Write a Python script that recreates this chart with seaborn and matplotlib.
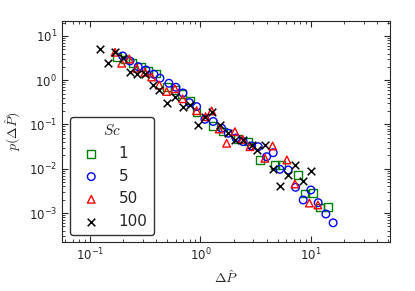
import numpy as np
import pandas as pd
import matplotlib
matplotlib.use("Agg")
import matplotlib.pyplot as plt
import seaborn as sns

# valores (Delta P_hat, p(Delta P_hat)) para cada Sc
x_sc1 = [0.1755, 0.2073, 0.2434, 0.2893, 0.3371, 0.3957, 0.5006, 0.5875, 0.6803, 0.8035,
         0.9239, 1.306, 1.608, 2.198, 2.707, 3.455, 4.723, 5.430, 7.627, 8.735, 10.49, 12.06, 14.34]
y_sc1 = [3.35, 2.94, 2.42, 1.99, 1.66, 1.42, 0.693, 0.602, 0.489, 0.345,
         0.185, 0.0925, 0.0688, 0.0463, 0.0409, 0.0158, 0.01216, 0.01216, 0.00722, 0.00276, 0.00279, 0.00133, 0.00137]

x_sc5 = [0.1976, 0.2301, 0.2736, 0.3212, 0.3795, 0.4300, 0.5187, 0.6000, 0.6946, 0.7950,
         0.9239, 1.098, 1.306, 1.556, 1.785, 2.096, 2.439, 2.906, 3.336, 3.973,
         4.559, 5.242, 6.233, 7.270, 8.518, 10.0, 11.65, 13.67, 15.91]
y_sc5 = [3.53, 2.72, 2.02, 1.70, 1.36, 1.11, 0.853, 0.693, 0.515, 0.311,
         0.253, 0.131, 0.117, 0.0820, 0.0633, 0.0495, 0.0409, 0.0327, 0.0315, 0.0187,
         0.0230, 0.00972, 0.00937, 0.00381, 0.00197, 0.00331, 0.00171, 0.00095, 0.00060]

x_sc50 = [0.1684, 0.1936, 0.2268, 0.2647, 0.3146, 0.3617, 0.4238, 0.4944, 0.5875, 0.6903,
          0.9239, 1.114, 1.263, 1.479, 1.726, 2.052, 2.409, 2.805, 3.835, 4.502,
          6.066, 7.164, 9.692, 11.57]
y_sc50 = [4.28, 2.42, 3.02, 1.86, 1.51, 1.18, 0.781, 0.557, 0.641, 0.381,
          0.205, 0.150, 0.202, 0.0791, 0.0376, 0.0688, 0.0463, 0.0315, 0.0172, 0.0327,
          0.0158, 0.00452, 0.00168, 0.00152]

x_sc100 = [0.123, 0.1446, 0.1684, 0.1976, 0.2301, 0.2681, 0.3146, 0.3693, 0.4238, 0.4944,
           0.5875, 0.6903, 0.8035, 0.9552, 1.098, 1.263, 1.501, 1.785, 2.052, 2.409,
           2.906, 3.226, 3.835, 4.559, 5.242, 6.233, 7.164, 8.518, 10.0]
y_sc100 = [5.00, 2.49, 4.42, 3.13, 1.56, 1.36, 1.36, 0.781, 0.602, 0.311,
           0.425, 0.253, 0.276, 0.0974, 0.150, 0.192, 0.0974, 0.0643, 0.0446, 0.0446,
           0.0344, 0.0265, 0.0344, 0.00972, 0.00408, 0.00722, 0.01216, 0.00529, 0.00889]

sc_labels = ["1", "5", "50", "100"]
sc_markers = ["s", "o", "^", "x"]
sc_colors = ["green", "blue", "red", "black"]


def gerar_grafico():
    sns.set_style("ticks", {"xtick.direction": "in", "ytick.direction": "in"})
    plt.rcParams["mathtext.fontset"] = "cm"
    plt.rcParams["font.family"] = ["DejaVu Sans"]

    fig = plt.figure(figsize=(4.15, 2.91), dpi=100)
    ax = fig.add_axes([0.1494, 0.168, 0.790, 0.76])

    series = [(x_sc1, y_sc1), (x_sc5, y_sc5), (x_sc50, y_sc50), (x_sc100, y_sc100)]
    for (xs, ys), lab, m, c in zip(series, sc_labels, sc_markers, sc_colors):
        df = pd.DataFrame({"dp": xs, "p": ys})
        if m == "x":
            sns.scatterplot(data=df, x="dp", y="p", marker=m, color=c, s=30,
                            linewidth=1.1, label=lab, ax=ax)
        else:
            sns.scatterplot(data=df, x="dp", y="p", marker=m, facecolor="none",
                            edgecolor=c, color=c, s=30, linewidth=1.0, label=lab, ax=ax)

    ax.set_xscale("log")
    ax.set_yscale("log")
    ax.set_xlim(0.0558, 51.9)
    ax.set_ylim(2.2e-4, 21.8)
    ax.tick_params(which="both", top=True, right=True, labelsize=8.5)
    ax.tick_params(which="major", length=4)
    ax.tick_params(which="minor", length=2)
    ax.set_xlabel(r"$\Delta\hat{P}$", fontsize=10)
    ax.set_ylabel(r"$p(\Delta\hat{P})$", fontsize=10)

    leg = ax.legend(title=r"$Sc$", loc="lower left", bbox_to_anchor=(0.024, 0.032),
                    borderaxespad=0, fontsize=11, title_fontsize=11, scatterpoints=1,
                    labelspacing=0.5, handletextpad=0.8, frameon=True, fancybox=True)
    leg.get_frame().set_edgecolor("black")

    fig.savefig("out.png", dpi=100)


if __name__ == "__main__":
    gerar_grafico()
